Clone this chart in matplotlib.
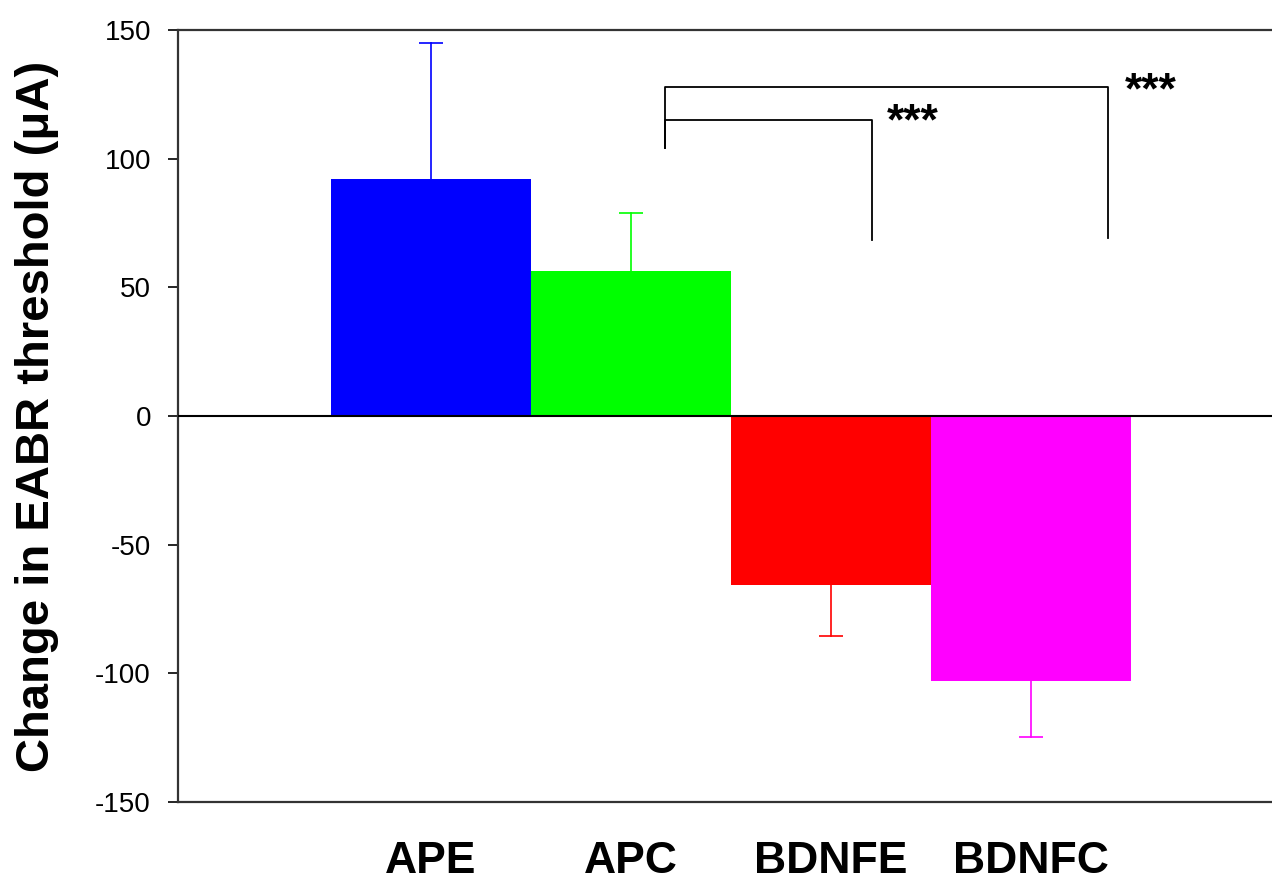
import matplotlib
matplotlib.use("Agg")
import matplotlib.pyplot as plt

# values
groups = ["APE", "APC", "BDNFE", "BDNFC"]
means = [92, 56.4, -65.7, -103]
errs = [53, 22.5, 19.8, 21.8]
colors = ["#0000ff", "#00ff00", "#ff0000", "#ff00ff"]
yticks = [-150, -100, -50, 0, 50, 100, 150]

# significance brackets: (x_left, x_right, y_bar, y_left_end, y_right_end)
brackets = [(1.17, 2.205, 115, 104, 68.5), (1.17, 3.385, 128, 104, 69)]
stars_pos = [(2.28, 114), (3.47, 126)]

plt.rcParams['font.family'] = ['Liberation Sans', 'DejaVu Sans']
plt.rcParams['axes.unicode_minus'] = False

fig = plt.figure(figsize=(12.72, 8.86), dpi=100)
ax = fig.add_axes([178/1272, 84/886, 1 - 178/1272, 772/886])

x = list(range(len(groups)))
ax.bar(x, means, width=1.0, color=colors, edgecolor='none', zorder=2)
# one-sided error bars, cap only at the far end
for i in x:
    end = means[i] + errs[i] if means[i] > 0 else means[i] - errs[i]
    ax.plot([i, i], [means[i], end], color=colors[i], lw=1.2, zorder=1)
    ax.plot([i], [end], marker='_', ms=17, mew=1.2, color=colors[i], zorder=1)

ax.axhline(0, color='black', lw=1.5, zorder=3)

for (xl, xr, yb, yl, yr), (sx, sy) in zip(brackets, stars_pos):
    ax.plot([xl, xl, xr, xr], [yl, yb, yb, yr], color='black', lw=1.3)
    ax.text(sx, sy, "***", fontsize=32, fontweight='bold', ha='left', va='center')

ax.set_xlim(-1.265, 4.205)
ax.set_ylim(-150, 150)
ax.set_yticks(yticks)
ax.set_xticks(x)
ax.set_xticklabels(groups, fontsize=32, fontweight='bold')
ax.tick_params(axis='x', length=0, pad=28)
ax.tick_params(axis='y', direction='out', length=7.5, width=1.2, labelsize=20, pad=12)

ax.spines['right'].set_visible(False)
for s in ['left', 'top', 'bottom']:
    ax.spines[s].set_linewidth(1.6)
    ax.spines[s].set_color('#333333')

fig.text(37/1272, 1 - 416/886, "Change in EABR threshold (\u03bcA)", rotation=90,
         ha='center', va='center', fontsize=34, fontweight='bold')

fig.savefig("out.png", dpi=100)
